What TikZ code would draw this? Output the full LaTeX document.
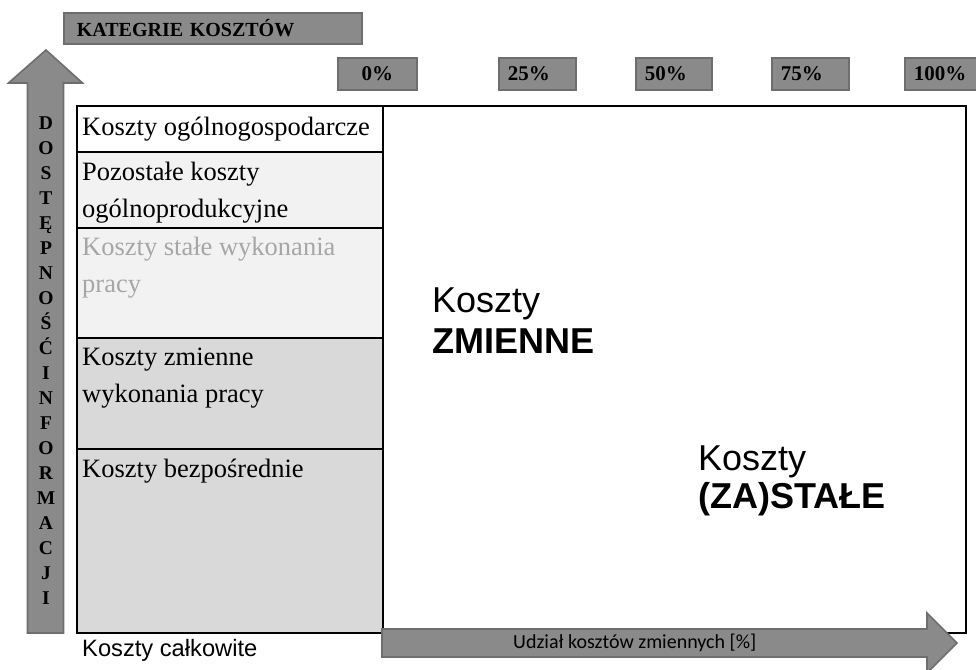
\documentclass[tikz,border=0pt]{standalone}
\usepackage{fontspec}
\setmainfont{Liberation Serif}
\newfontfamily\arialf{Liberation Sans}
\newfontfamily\calibf{Carlito}
\definecolor{boxfill}{HTML}{8A8A8A}
\definecolor{boxline}{HTML}{6E6E6E}
\definecolor{rowA}{HTML}{F2F2F2}
\definecolor{rowB}{HTML}{D9D9D9}
\definecolor{greytxt}{HTML}{A6A6A6}
\begin{document}
\begin{tikzpicture}[x=1pt,y=-1pt,
  pbox/.style={draw=boxline,fill=boxfill,line width=1.6pt,anchor=north west,minimum height=32pt,inner xsep=9pt,inner ysep=0pt,text width=59pt,align=left,font=\bfseries\fontsize{21}{23}\selectfont},
  rowtxt/.style={anchor=base west,inner sep=0pt,font=\fontsize{26.5}{30}\selectfont},
  letter/.style={anchor=base,inner sep=0pt,font=\bfseries\fontsize{19.5}{21}\selectfont},
  bigtxt/.style={anchor=base west,inner sep=0pt,font=\arialf\fontsize{36}{40}\selectfont},
  bigbold/.style={anchor=base west,inner sep=0pt,font=\arialf\bfseries\fontsize{36}{40}\selectfont},
  arrowshape/.style={draw=boxline,fill=boxfill,line width=1.6pt,line join=miter},
  gridline/.style={draw=black,line width=1.4pt}]
\useasboundingbox (0,0) rectangle (976,669);
\clip (0,0) rectangle (976,669);
\fill[white] (0,0) rectangle (976,669);

% header box
\node[draw=boxline,fill=boxfill,line width=1.6pt,anchor=north west,minimum height=31pt,inner xsep=13pt,inner ysep=0pt,text width=272pt,align=left,font=\bfseries\fontsize{20}{22}\selectfont] (kat) at (63,12) {KATEGRIE\ KOSZTÓW};

% percent boxes
\node[pbox,text width=61pt,align=center] (p0) at (337,57) {0\%};
\node[pbox] (p25) at (498,57) {25\%};
\node[pbox,text width=58pt] (p50) at (635,57) {50\%};
\node[pbox] (p75) at (771,57) {75\%};
\node[pbox] (p100) at (904,57) {100\%};

% table rows
\fill[white] (77,106) rectangle (383,152);
\fill[rowA] (77,152) rectangle (383,228);
\fill[rowA] (77,228) rectangle (383,338);
\fill[rowB] (77,338) rectangle (383,449);
\fill[rowB] (77,449) rectangle (383,633);
\draw[gridline] (77,106) -- (966,106) -- (966,633) -- (77,633) -- cycle;
\draw[gridline] (383,106) -- (383,633);
\draw[gridline] (77,152) -- (383,152);
\draw[gridline] (77,228) -- (383,228);
\draw[gridline] (77,338) -- (383,338);
\draw[gridline] (77,449) -- (383,449);

\node[rowtxt] (r1) at (82,135) {Koszty ogólnogospodarcze};
\node[rowtxt] (r2a) at (82,180) {Pozostałe koszty};
\node[rowtxt] (r2b) at (82,217) {ogólnoprodukcyjne};
\node[rowtxt,text=greytxt] (r3a) at (82,255) {Koszty stałe wykonania};
\node[rowtxt,text=greytxt] (r3b) at (82,292) {pracy};
\node[rowtxt] (r4a) at (82,365) {Koszty zmienne};
\node[rowtxt] (r4b) at (82,402) {wykonania pracy};
\node[rowtxt] (r5) at (82,477) {Koszty bezpośrednie};

% vertical arrow
\draw[arrowshape] (27.5,633) -- (27.5,83) -- (8.5,83) -- (46,50) -- (82.5,83) -- (63.5,83) -- (63.5,633) -- cycle;
\foreach \l [count=\i] in {D,O,S,T,Ę,P,N,O,Ś,Ć,I,N,F,O,R,M,A,C,J,I}
  \node[letter] (L\i) at (46,129+25*\i-25) {\l};

% horizontal arrow
\draw[arrowshape] (382,629) -- (927,629) -- (927,613) -- (957,643) -- (927,673) -- (927,657) -- (382,657) -- cycle;
\node[anchor=base west,inner sep=0pt,font=\calibf\fontsize{20}{22}\selectfont] (udz) at (513,648) {Udział kosztów zmiennych [\%]};

\node[anchor=base west,inner sep=0pt,font=\arialf\fontsize{23.7}{26}\selectfont] (calk) at (82,656) {Koszty całkowite};

% big labels
\node[bigtxt] (zm1) at (432,312) {Koszty};
\node[bigbold] (zm2) at (432,353) {ZMIENNE};
\node[bigtxt] (st1) at (698,470) {Koszty};
\node[bigbold] (st2) at (698,508) {(ZA)STAŁE};
\end{tikzpicture}
\end{document}
